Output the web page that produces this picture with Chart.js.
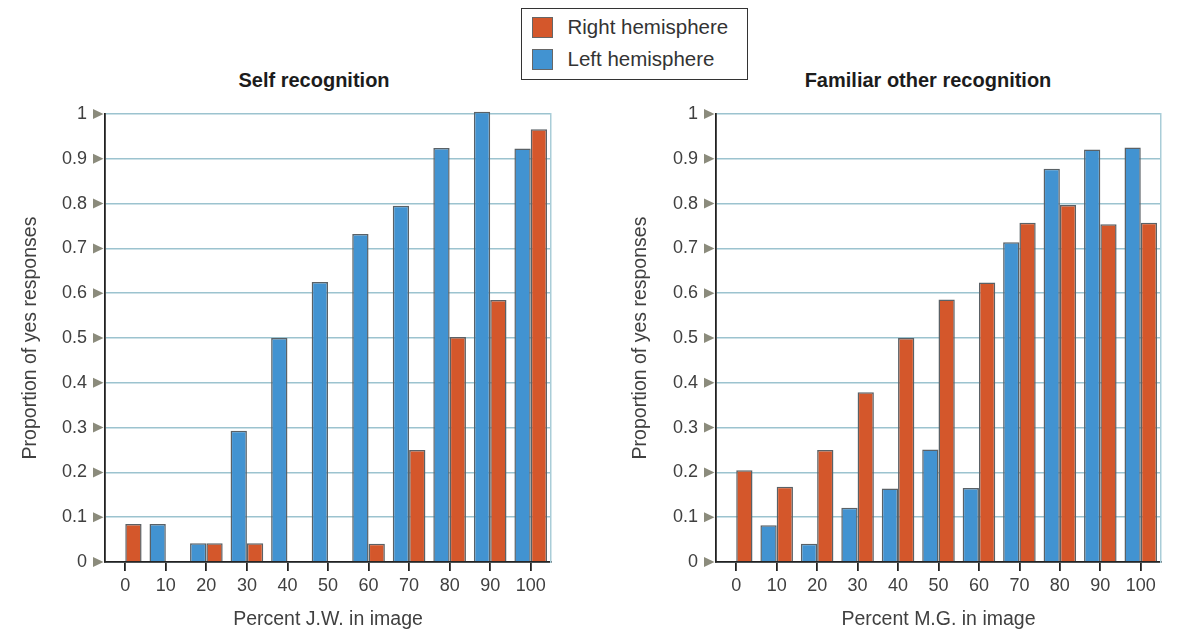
<!DOCTYPE html>
<html>
<head>
<meta charset="utf-8">
<script src="https://cdn.jsdelivr.net/npm/chart.js@4.4.1/dist/chart.umd.min.js"></script>
<style>
  body {
    margin: 0;
    width: 1177px;
    height: 634px;
    background: #fff;
    position: relative;
    overflow: hidden;
    font-family: 'Liberation Sans', Arial, sans-serif;
  }
  .box { position: absolute; top: 0; height: 634px; }
  #selfBox { left: 0; width: 566px; }
  #otherBox { left: 580px; width: 597px; }
  .title {
    position: absolute;
    top: 68px;
    width: 400px;
    text-align: center;
    font-weight: bold;
    font-size: 20px;
    line-height: 24px;
    color: #1c1c1c;
  }
  #legend {
    position: absolute;
    left: 521px;
    top: 8px;
    width: 227px;
    height: 72px;
    box-sizing: border-box;
    border: 1.5px solid #333;
    padding: 2px 0 0 9.5px;
    background: #fff;
  }
  .item { height: 32px; line-height: 32px; font-size: 20.5px; color: #333; white-space: nowrap; }
  .swatch {
    display: inline-block;
    width: 21px;
    height: 21px;
    box-sizing: border-box;
    border: 1.5px solid #666;
    vertical-align: middle;
    margin: -3px 15px 0 0;
  }
</style>
</head>
<body>
<div class="title" style="left:114px">Self recognition</div>
<div class="title" style="left:728px">Familiar other recognition</div>
<div class="box" id="selfBox"><canvas id="selfChart"></canvas></div>
<div class="box" id="otherBox"><canvas id="otherChart"></canvas></div>
<div id="legend"></div>
<script>
const categories = ['0', '10', '20', '30', '40', '50', '60', '70', '80', '90', '100']
const yTicks = [0, 0.1, 0.2, 0.3, 0.4, 0.5, 0.6, 0.7, 0.8, 0.9, 1]

// Self recognition (J.W.)
const selfLeft = [0, 0.085, 0.042, 0.293, 0.5, 0.625, 0.732, 0.795, 0.924, 1.005, 0.923]
const selfRight = [0.085, 0, 0.042, 0.042, 0, 0, 0.041, 0.25, 0.502, 0.585, 0.966]

// Familiar other recognition (M.G.)
const otherLeft = [0, 0.082, 0.041, 0.121, 0.164, 0.251, 0.165, 0.714, 0.878, 0.921, 0.925]
const otherRight = [0.205, 0.168, 0.25, 0.379, 0.5, 0.586, 0.624, 0.757, 0.797, 0.754, 0.757]

const LEFT_COLOR = '#4293d1'
const RIGHT_COLOR = '#d4572b'
const FONT = 'Liberation Sans'
const TEXT = '#404040'

// little grey arrowheads next to each y tick
const tickArrows = {
  id: 'tickArrows',
  afterDraw(chart) {
    const scale = chart.scales.y
    const ctx = chart.ctx
    ctx.save()
    ctx.fillStyle = '#8b8b7c'
    scale.ticks.forEach((t) => {
      const y = scale.getPixelForValue(t.value)
      ctx.beginPath()
      ctx.moveTo(scale.right - 12, y - 5)
      ctx.lineTo(scale.right - 1.5, y)
      ctx.lineTo(scale.right - 12, y + 5)
      ctx.closePath()
      ctx.fill()
    })
    ctx.restore()
  },
}

function makeChart(id, leftData, rightData, xTitle, padLeft, yWidth, padRight) {
  const ctx = document.getElementById(id).getContext('2d')
  return new Chart(ctx, {
    type: 'bar',
    data: {
      labels: categories,
      datasets: [
        { label: 'Left hemisphere', data: leftData, backgroundColor: LEFT_COLOR },
        { label: 'Right hemisphere', data: rightData, backgroundColor: RIGHT_COLOR },
      ],
    },
    options: {
      responsive: true,
      maintainAspectRatio: false,
      animation: false,
      layout: { padding: { top: 114, right: padRight, bottom: 0, left: padLeft } },
      datasets: {
        bar: {
          borderColor: '#5a6166',
          borderWidth: 1.5,
          categoryPercentage: 0.805,
          barPercentage: 1,
          clip: false,
        },
      },
      plugins: { legend: { display: false }, tooltip: { enabled: false } },
      scales: {
        x: {
          offset: true,
          grid: {
            offset: false,
            drawOnChartArea: false,
            tickLength: 9,
            color: '#222',
            lineWidth: 1.8,
          },
          border: { color: '#222', width: 1.8 },
          ticks: {
            font: { family: FONT, size: 18 },
            color: TEXT,
            padding: 4,
            maxRotation: 0,
            autoSkip: false,
          },
          title: {
            display: true,
            text: xTitle,
            font: { family: FONT, size: 19.5 },
            color: TEXT,
            padding: { top: 0, bottom: 3 },
          },
          afterFit(scale) {
            scale.height = 72
          },
        },
        y: {
          min: 0,
          max: 1,
          afterBuildTicks(scale) {
            scale.ticks = yTicks.map((v) => ({ value: v }))
          },
          grid: { color: '#9cc3cf', lineWidth: 1.5, drawTicks: false },
          border: { color: '#222', width: 1.8 },
          ticks: {
            font: { family: FONT, size: 18 },
            color: TEXT,
            padding: 18,
            callback: (v) => String(v),
          },
          title: {
            display: true,
            text: 'Proportion of yes responses',
            font: { family: FONT, size: 19.5 },
            color: TEXT,
            padding: { top: 19, bottom: 0 },
          },
          afterFit(scale) {
            scale.width = yWidth
          },
        },
        frame: {
          position: 'right',
          grid: { display: false },
          ticks: { display: false },
          border: { color: '#a9cdd8', width: 1.5 },
          afterFit(scale) {
            scale.width = 0
          },
        },
      },
    },
    plugins: [tickArrows],
  })
}

const selfChart = makeChart('selfChart', selfLeft, selfRight, 'Percent J.W. in image', 0, 105, 15)
makeChart('otherChart', otherLeft, otherRight, 'Percent M.G. in image', 30, 106, 16)

// shared legend, Right hemisphere listed first
const legend = document.getElementById('legend')
selfChart.data.datasets
  .slice()
  .reverse()
  .forEach((ds) => {
    const item = document.createElement('div')
    item.className = 'item'
    item.innerHTML = `<span class="swatch" style="background:${ds.backgroundColor}"></span>${ds.label}`
    legend.appendChild(item)
  })
</script>
</body>
</html>
